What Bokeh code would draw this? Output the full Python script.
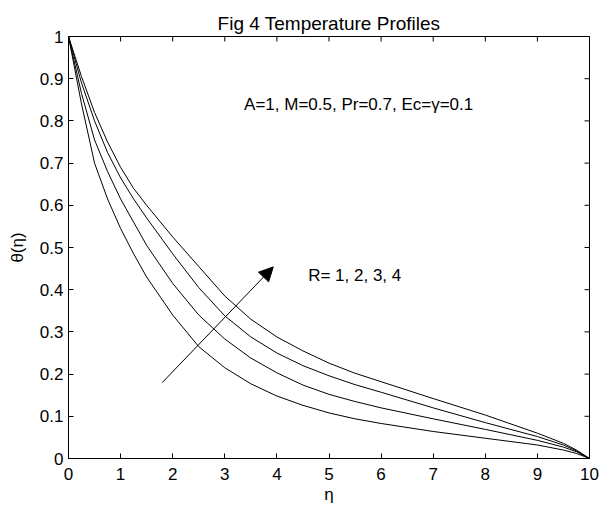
import math
from bokeh.plotting import figure
from bokeh.models import (Range1d, FixedTicker, NumeralTickFormatter,
                          Label, Arrow, NormalHead)
from bokeh.embed import file_html
from bokeh.resources import INLINE

# data
eta = [0, 0.25, 0.5, 0.75, 1, 1.25, 1.5, 2, 2.5, 3, 3.5, 4, 4.5, 5, 5.5, 6, 7, 8, 9, 9.5, 9.75, 10]
theta_R1 = [1, 0.84, 0.70, 0.615, 0.545, 0.485, 0.43, 0.34, 0.265, 0.215, 0.177, 0.148, 0.126, 0.108, 0.094, 0.083, 0.064, 0.048, 0.032, 0.02, 0.012, 0]
theta_R2 = [1, 0.865, 0.755, 0.68, 0.615, 0.56, 0.505, 0.415, 0.34, 0.283, 0.238, 0.203, 0.174, 0.152, 0.135, 0.12, 0.094, 0.069, 0.043, 0.027, 0.016, 0]
theta_R3 = [1, 0.89, 0.80, 0.725, 0.665, 0.615, 0.57, 0.485, 0.405, 0.338, 0.288, 0.25, 0.22, 0.196, 0.175, 0.157, 0.12, 0.085, 0.052, 0.032, 0.018, 0]
theta_R4 = [1, 0.905, 0.82, 0.75, 0.69, 0.64, 0.60, 0.525, 0.455, 0.385, 0.33, 0.288, 0.255, 0.226, 0.202, 0.182, 0.142, 0.103, 0.06, 0.036, 0.02, 0]
series = [theta_R1, theta_R2, theta_R3, theta_R4]

x_ticks = [0, 1, 2, 3, 4, 5, 6, 7, 8, 9, 10]
y_ticks = [0, 0.1, 0.2, 0.3, 0.4, 0.5, 0.6, 0.7, 0.8, 0.9, 1]
x_min, x_max = 0, 10
y_min, y_max = 0, 1

title_text = "Fig 4 Temperature Profiles"
param_text = "A=1, M=0.5, Pr=0.7, Ec=\u03b3=0.1"
r_text = "R= 1, 2, 3, 4"

FONT = "Liberation Sans"
FS = "17px"

p = figure(width=600, height=506, output_backend="svg", toolbar_location=None,
           x_range=Range1d(x_min, x_max), y_range=Range1d(y_min, y_max),
           min_border_left=68, min_border_right=11, min_border_top=36, min_border_bottom=42,
           title=title_text)
p.title.align = "center"
p.title.text_font = FONT
p.title.text_font_size = "19px"
p.title.text_font_style = "normal"
p.title.text_color = "black"
p.title.standoff = 5
p.background_fill_color = "white"
p.border_fill_color = "white"
p.outline_line_color = "black"
p.outline_line_width = 1
p.grid.visible = False

for ys in series:
    p.line(eta, ys, line_color="black", line_width=1)

# inward ticks on the top and right edges (markers are clipped to the frame)
p.scatter([x_max] * len(y_ticks), y_ticks, marker="dash", size=10, line_color="black", line_width=1)
p.scatter(x_ticks, [y_max] * len(x_ticks), marker="dash", size=10, angle=math.pi / 2,
          line_color="black", line_width=1)

def style_axis(ax, ticks):
    ax.ticker = FixedTicker(ticks=ticks)
    ax.major_tick_in = 5
    ax.major_tick_out = 0
    ax.minor_tick_in = 0
    ax.minor_tick_out = 0
    ax.axis_line_color = "black"
    ax.major_tick_line_color = "black"
    ax.major_label_text_font = FONT
    ax.major_label_text_font_size = FS
    ax.major_label_text_color = "black"
    ax.formatter = NumeralTickFormatter(format="0.[0]")
    ax.axis_label_text_font = FONT
    ax.axis_label_text_font_size = FS
    ax.axis_label_text_font_style = "normal"
    ax.axis_label_text_color = "black"

xa = p.xaxis[0]
style_axis(xa, x_ticks)
xa.major_label_standoff = 9
xa.axis_label = "\u03b7"
xa.axis_label_standoff = 2

ya = p.yaxis[0]
style_axis(ya, y_ticks)
ya.major_label_standoff = 5
ya.axis_label = "\u03b8(\u03b7)"
ya.axis_label_standoff = 10

p.add_layout(Label(x=3.37, y=0.839, text=param_text, text_align="left", text_baseline="middle",
                   text_font=FONT, text_font_size=FS, text_color="black"))
p.add_layout(Label(x=4.6, y=0.433, text=r_text, text_align="left", text_baseline="middle",
                   text_font=FONT, text_font_size=FS, text_color="black"))
p.add_layout(Arrow(x_start=1.8, y_start=0.18, x_end=3.93, y_end=0.454,
                   line_color="black", line_width=1,
                   end=NormalHead(size=14, fill_color="black", line_color="black")))

open("out.html", "w").write(file_html(p, INLINE))
